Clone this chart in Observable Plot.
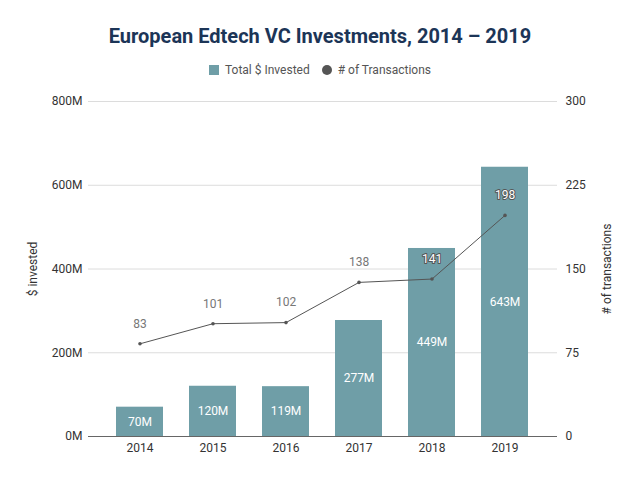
<!DOCTYPE html>
<html>
<head>
<meta charset="utf-8">
<script src="https://cdn.jsdelivr.net/npm/d3@7"></script>
<script src="https://cdn.jsdelivr.net/npm/@observablehq/plot@0.6"></script>
<style>
  body { margin: 0; background: #fff; font-family: Roboto, "Noto Sans", sans-serif; }
  #wrap { width: 640px; height: 480px; position: relative; }
  #title { position: absolute; top: 24px; left: 0; width: 640px; text-align: center; font-size: 20px; font-weight: 700; color: #1c3557; }
  #legend { position: absolute; top: 63px; left: 0; width: 640px; display: flex; justify-content: center; align-items: center; font-size: 12px; color: #555; }
  #legend .sw { display: inline-block; width: 10px; height: 10px; margin-right: 6px; }
  #legend .item { display: flex; align-items: center; margin: 0 6px; }
  #chart { position: absolute; top: 85px; left: 0; }
</style>
</head>
<body>
<div id="wrap">
  <div id="title">European Edtech VC Investments, 2014 – 2019</div>
  <div id="legend"></div>
  <div id="chart"></div>
</div>
<script>
const years = ["2014", "2015", "2016", "2017", "2018", "2019"];
const invested = [70, 120, 119, 277, 449, 643];
const transactions = [83, 101, 102, 138, 141, 198];
const leftTicks = [0, 200, 400, 600, 800];
const rightTicks = [0, 75, 150, 225, 300];
const seriesNames = ["Total $ Invested", "# of Transactions"];

const barColor = "#6f9ea7";
const lineColor = "#555555";
const k = 800 / 300;

const data = years.map((y, i) => ({ year: y, invested: invested[i], tx: transactions[i] }));

// legend
const legend = document.getElementById("legend");
legend.innerHTML =
  `<span class="item"><span class="sw" style="background:${barColor}"></span>${seriesNames[0]}</span>` +
  `<span class="item"><span class="sw" style="background:${lineColor};border-radius:50%"></span>${seriesNames[1]}</span>`;

const chart = Plot.plot({
  width: 640,
  height: 395,
  marginTop: 16,
  marginBottom: 44,
  marginLeft: 88,
  marginRight: 83,
  style: { fontFamily: "Roboto, sans-serif", fontSize: "12px", color: "#333" },
  x: { domain: years, padding: 0.35, label: null },
  y: { domain: [0, 800], label: null },
  marks: [
    Plot.gridY(leftTicks, { stroke: "#dcdcdc", strokeOpacity: 1 }),
    Plot.barY(data, { x: "year", y: "invested", fill: barColor }),
    Plot.ruleY([0], { stroke: "#666" }),
    Plot.text(data, { x: "year", y: d => d.invested / 2, text: d => d.invested + "M", fill: "white", fontSize: 12 }),
    Plot.line(data, { x: "year", y: d => d.tx * k, stroke: lineColor, strokeWidth: 1 }),
    Plot.dot(data, { x: "year", y: d => d.tx * k, r: 1.8, fill: lineColor }),
    Plot.text(data, {
      x: "year", y: d => d.tx * k, dy: -20, text: d => String(d.tx), fontSize: 12,
      fill: d => d.invested > d.tx * k ? "white" : "#777",
      stroke: d => d.invested > d.tx * k ? "#555" : "white",
      strokeWidth: d => d.invested > d.tx * k ? 2 : 3
    }),
    Plot.axisX({ tickSize: 0, tickPadding: 7, fontSize: 12, fill: "#333", label: null }),
    Plot.axisY({ anchor: "left", ticks: leftTicks, tickSize: 0, tickPadding: 6, tickFormat: d => d + "M", fill: "#333",
      label: "$ invested", labelAnchor: "center", labelOffset: 60, labelArrow: "none" }),
    Plot.axisY({ anchor: "right", ticks: rightTicks.map(v => v * k), tickSize: 0, tickPadding: 8,
      tickFormat: d => String(Math.round(d / k)), fill: "#333",
      label: "# of transactions", labelAnchor: "center", labelOffset: 53, labelArrow: "none" })
  ]
});
document.getElementById("chart").appendChild(chart);
</script>
</body>
</html>
